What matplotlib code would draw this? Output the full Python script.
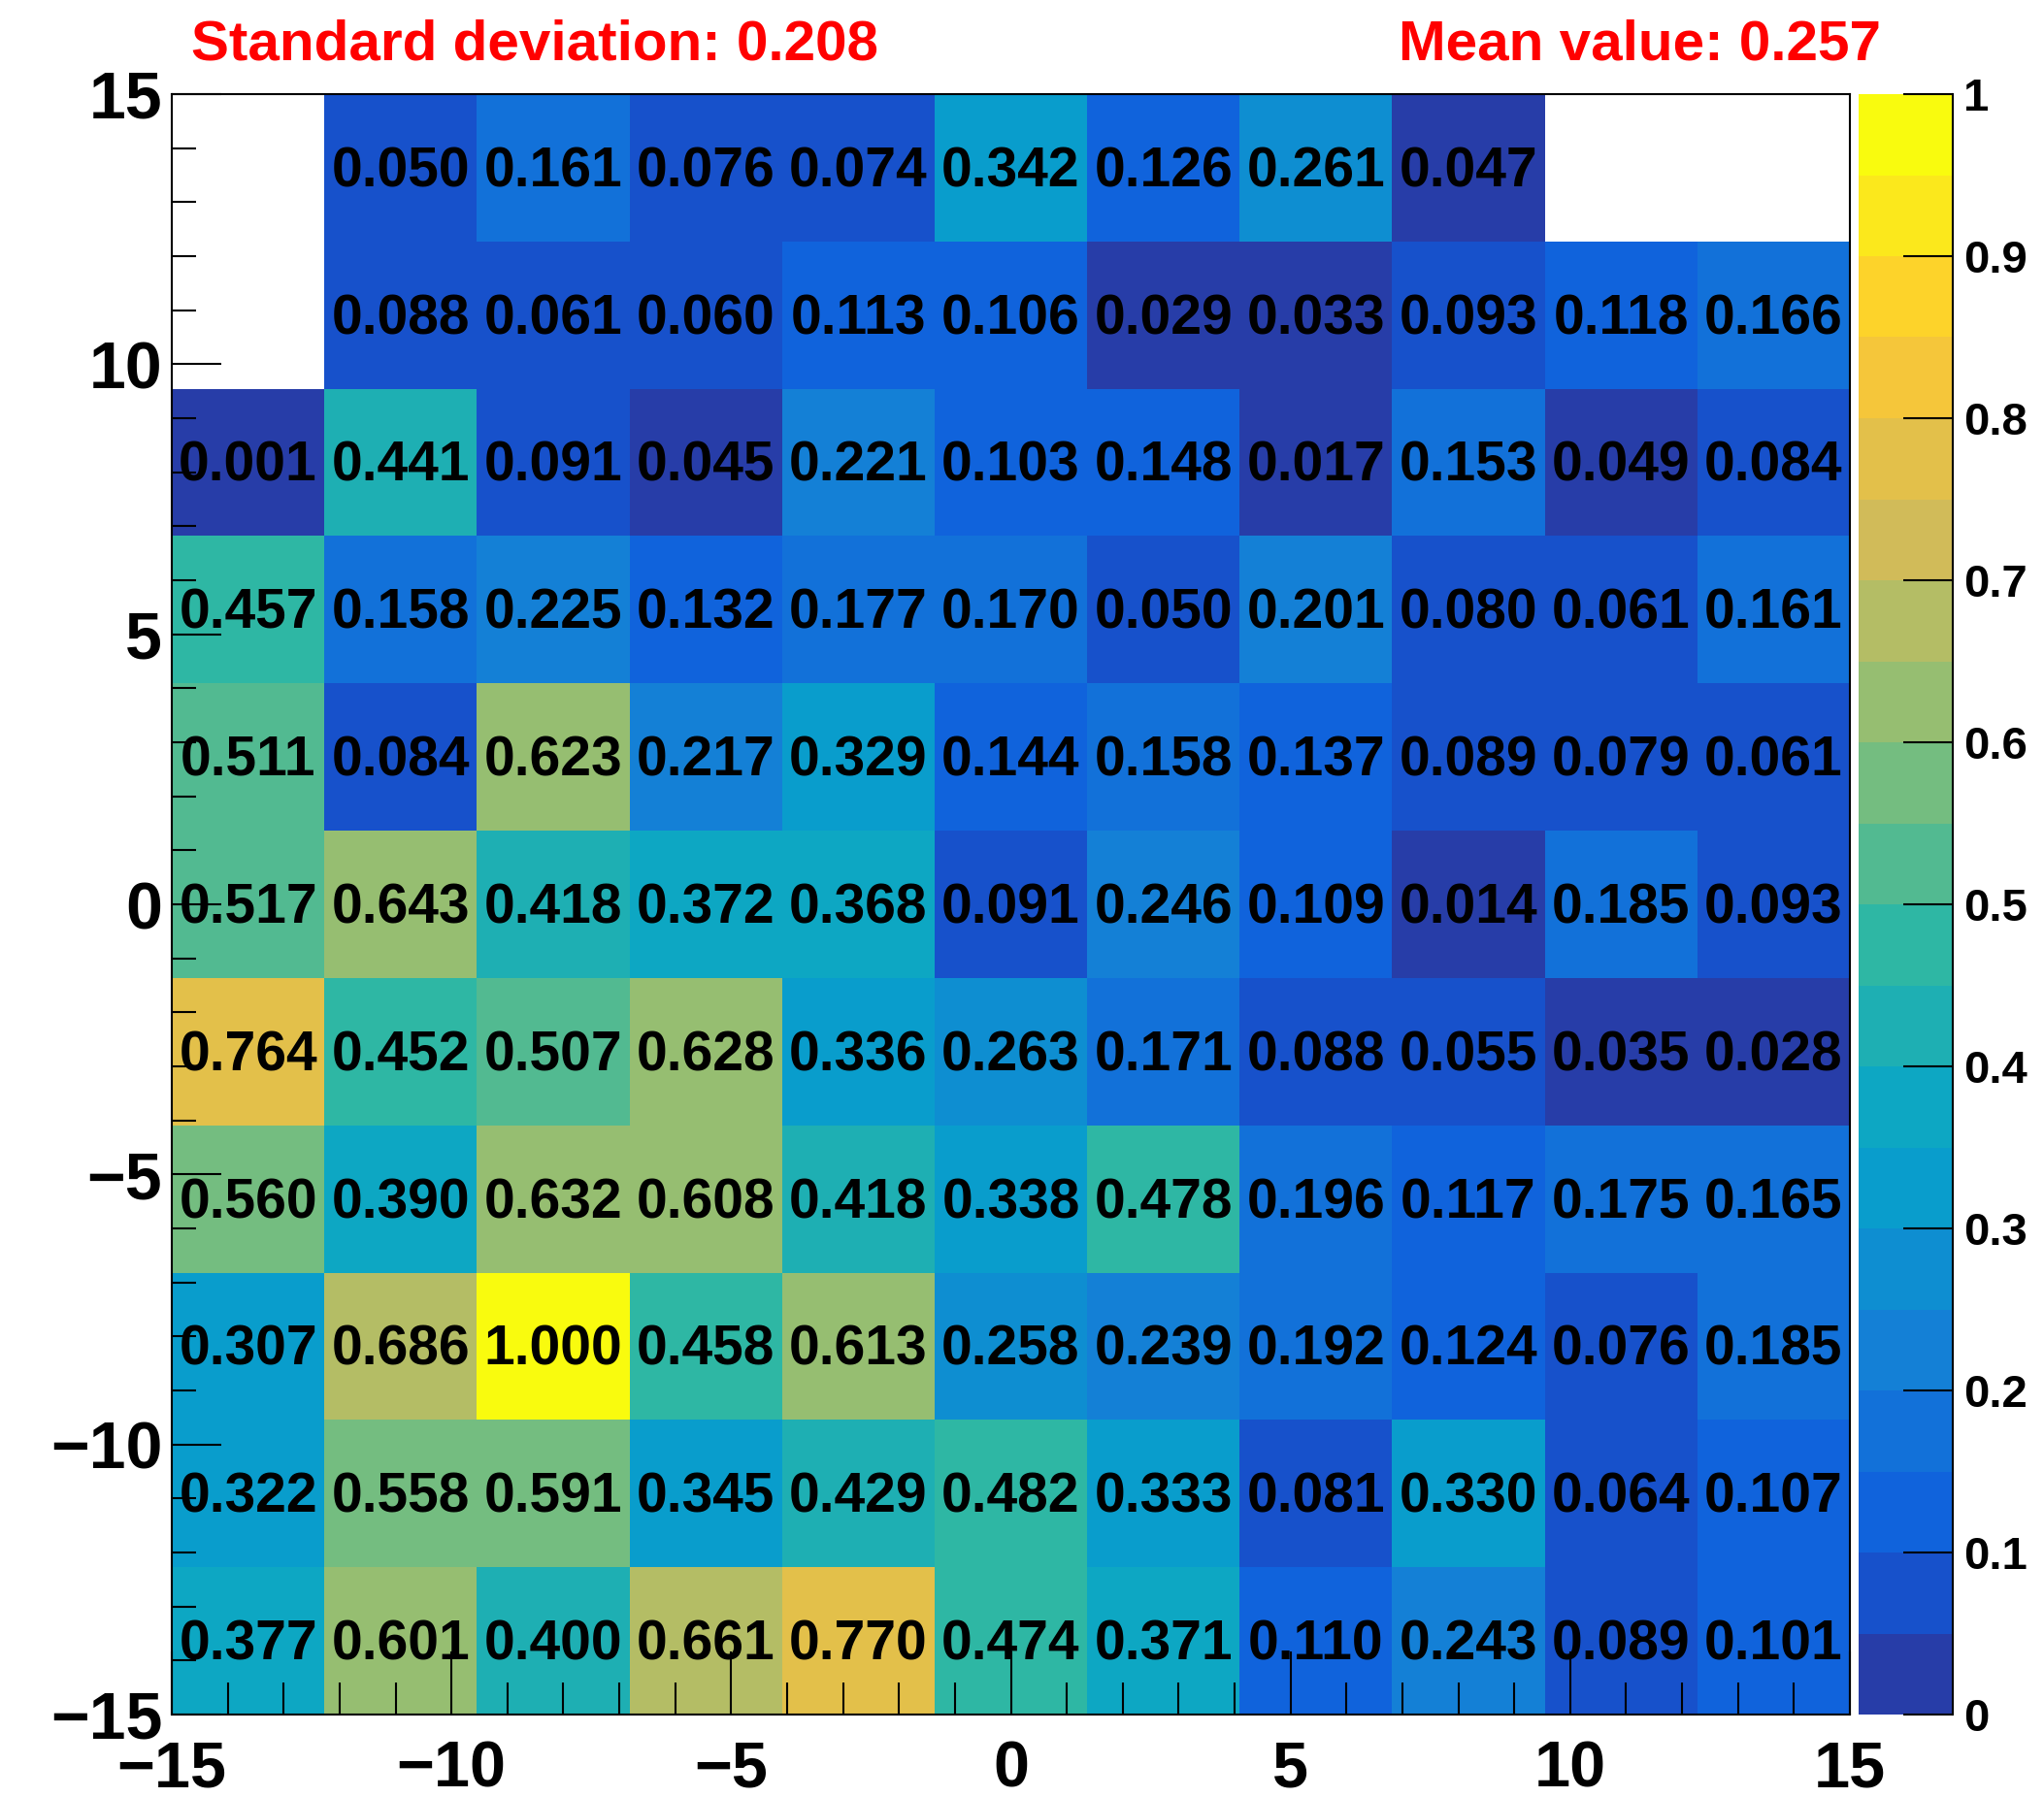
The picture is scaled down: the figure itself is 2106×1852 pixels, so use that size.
import numpy as np
import matplotlib
matplotlib.use('Agg')
import matplotlib.pyplot as plt
from matplotlib.colors import LinearSegmentedColormap, ListedColormap, BoundaryNorm
from matplotlib.ticker import MultipleLocator

plt.rcParams['font.family'] = ['Liberation Sans', 'DejaVu Sans']
plt.rcParams['font.weight'] = 'bold'

# bin values, rows from top (y=15) to bottom (y=-15); nan = empty bin
row_0 = [np.nan, 0.050, 0.161, 0.076, 0.074, 0.342, 0.126, 0.261, 0.047, np.nan, np.nan]
row_1 = [np.nan, 0.088, 0.061, 0.060, 0.113, 0.106, 0.029, 0.033, 0.093, 0.118, 0.166]
row_2 = [0.001, 0.441, 0.091, 0.045, 0.221, 0.103, 0.148, 0.017, 0.153, 0.049, 0.084]
row_3 = [0.457, 0.158, 0.225, 0.132, 0.177, 0.170, 0.050, 0.201, 0.080, 0.061, 0.161]
row_4 = [0.511, 0.084, 0.623, 0.217, 0.329, 0.144, 0.158, 0.137, 0.089, 0.079, 0.061]
row_5 = [0.517, 0.643, 0.418, 0.372, 0.368, 0.091, 0.246, 0.109, 0.014, 0.185, 0.093]
row_6 = [0.764, 0.452, 0.507, 0.628, 0.336, 0.263, 0.171, 0.088, 0.055, 0.035, 0.028]
row_7 = [0.560, 0.390, 0.632, 0.608, 0.418, 0.338, 0.478, 0.196, 0.117, 0.175, 0.165]
row_8 = [0.307, 0.686, 1.000, 0.458, 0.613, 0.258, 0.239, 0.192, 0.124, 0.076, 0.185]
row_9 = [0.322, 0.558, 0.591, 0.345, 0.429, 0.482, 0.333, 0.081, 0.330, 0.064, 0.107]
row_10 = [0.377, 0.601, 0.400, 0.661, 0.770, 0.474, 0.371, 0.110, 0.243, 0.089, 0.101]

x_range = (-15, 15)
y_range = (-15, 15)
n_bins = 11
std_text = 'Standard deviation: 0.208'
mean_text = 'Mean value: 0.257'
cbar_ticks = [0, 0.1, 0.2, 0.3, 0.4, 0.5, 0.6, 0.7, 0.8, 0.9, 1]
cbar_labels = ['0', '0.1', '0.2', '0.3', '0.4', '0.5', '0.6', '0.7', '0.8', '0.9', '1']

rows = [row_0, row_1, row_2, row_3, row_4, row_5, row_6, row_7, row_8, row_9, row_10]
z = np.flipud(np.array(rows))  # bottom row first

# ROOT kBird palette, 20 contours
stops = [0.0, 0.125, 0.25, 0.375, 0.5, 0.625, 0.75, 0.875, 1.0]
red = [0.2082, 0.0592, 0.0780, 0.0232, 0.1802, 0.5301, 0.8186, 0.9956, 0.9764]
green = [0.1664, 0.3599, 0.5041, 0.6419, 0.7178, 0.7492, 0.7328, 0.7862, 0.9832]
blue = [0.5293, 0.8684, 0.8385, 0.7914, 0.6425, 0.4662, 0.3499, 0.1968, 0.0539]
bird = LinearSegmentedColormap.from_list('bird', list(zip(stops, zip(red, green, blue))), N=255)
n_cont = 20
cols = [bird(int((i + 0.99) * 255 / n_cont)) for i in range(n_cont)]
cmap = ListedColormap(cols)
levels = np.linspace(0, 1, n_cont + 1)
norm = BoundaryNorm(levels, cmap.N)

W, H = 2106, 1852
fig = plt.figure(figsize=(W / 100, H / 100), dpi=100)
ax = fig.add_axes([177 / W, 1 - 1767 / H, (1906 - 177) / W, (1767 - 97) / H])
cax = fig.add_axes([1915 / W, 1 - 1767 / H, (2012 - 1915) / W, (1767 - 97) / H])

xe = np.linspace(x_range[0], x_range[1], n_bins + 1)
ye = np.linspace(y_range[0], y_range[1], n_bins + 1)
mesh = ax.pcolormesh(xe, ye, np.ma.masked_invalid(z), cmap=cmap, norm=norm)

xc = (xe[:-1] + xe[1:]) / 2
yc = (ye[:-1] + ye[1:]) / 2
for i in range(n_bins):
    for j in range(n_bins):
        v = z[i, j]
        if np.isnan(v):
            continue
        ax.text(xc[j], yc[i] - 0.08, f'{v:.3f}', ha='center', va='center',
                fontsize=41, fontweight='bold', color='black', zorder=5)

ax.set_xlim(*x_range)
ax.set_ylim(*y_range)
ax.xaxis.set_major_locator(MultipleLocator(5))
ax.xaxis.set_minor_locator(MultipleLocator(1))
ax.yaxis.set_major_locator(MultipleLocator(5))
ax.yaxis.set_minor_locator(MultipleLocator(1))
ax.tick_params(axis='both', which='both', direction='in', top=False, right=False, width=1.5)
ax.tick_params(axis='x', which='major', length=47, labelsize=48, pad=19)
ax.tick_params(axis='x', which='minor', length=24)
ax.tick_params(axis='y', which='major', length=37, labelsize=49, pad=7)
ax.tick_params(axis='y', which='minor', length=18)
for s in ax.spines.values():
    s.set_linewidth(1.5)

cbar = fig.colorbar(mesh, cax=cax)
cbar.outline.set_visible(False)
cbar.set_ticks(cbar_ticks)
cbar.set_ticklabels(cbar_labels)
cax.minorticks_off()
cax.spines['right'].set_visible(True)
cax.spines['right'].set_linewidth(1.5)
cax.tick_params(axis='y', direction='in', length=37, width=1.5, labelsize=34, pad=8)

fig.text(197 / W, 1 - 62 / H, std_text, color='red', fontsize=42, fontweight='bold',
         ha='left', va='baseline')
fig.text(1938 / W, 1 - 62 / H, mean_text, color='red', fontsize=42, fontweight='bold',
         ha='right', va='baseline')

fig.savefig('out.png', dpi=100)
